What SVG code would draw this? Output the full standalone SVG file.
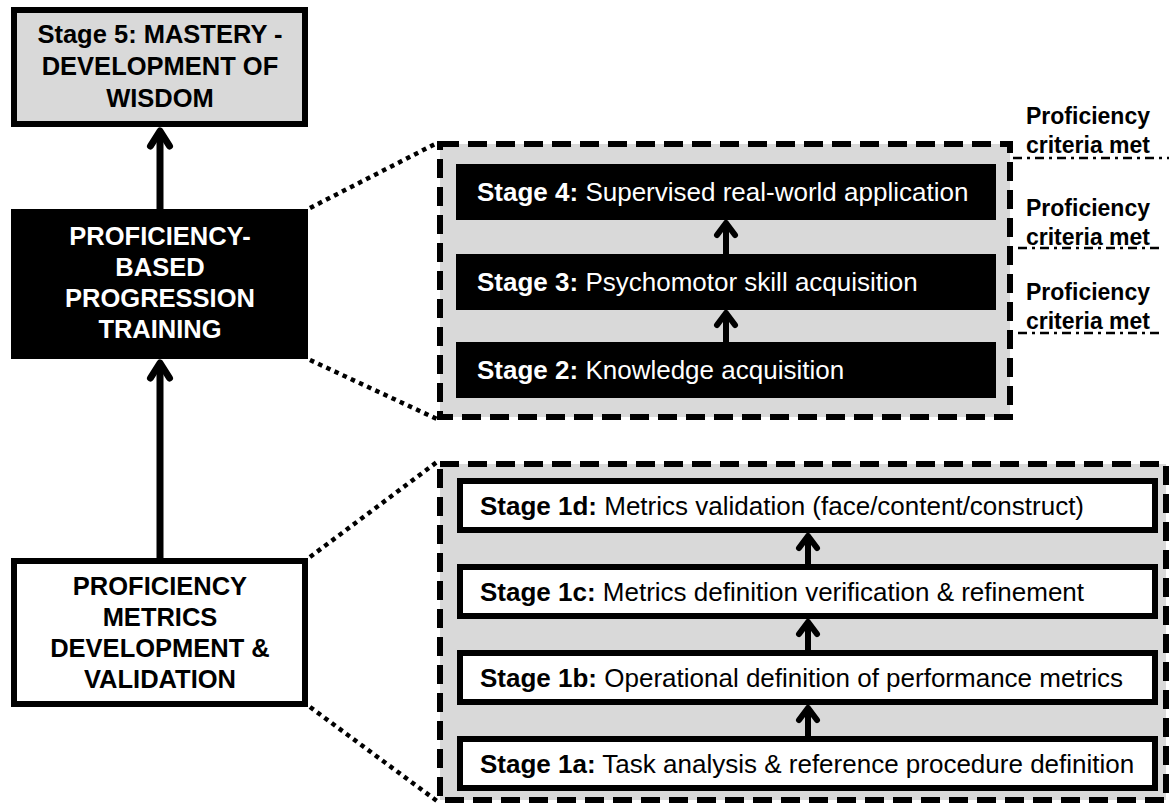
<svg xmlns="http://www.w3.org/2000/svg" width="1169" height="804" viewBox="0 0 1169 804">
<style>
text{font-family:"Liberation Sans",Arial,sans-serif}
.big{font-size:25.5px;font-weight:bold;text-anchor:middle}
.st{font-size:26px}
.b{font-weight:bold}
.lbl{font-size:23px;font-weight:bold;text-anchor:middle;fill:#000}
.cont{fill:#d9d9d9;stroke:#000;stroke-width:6;stroke-dasharray:19 9}
.wbox{fill:#fff;stroke:#000;stroke-width:6}
.kbox{fill:#000}
.arr{stroke:#000;stroke-width:7;fill:none}
.arr2{stroke:#000;stroke-width:6;fill:none}
.dot{stroke:#000;stroke-width:4.5;stroke-dasharray:4.5 4.5;fill:none}
.dd{stroke:#000;stroke-width:2.5;stroke-dasharray:9 5 3 5;fill:none}
</style>
<defs>
<marker id="ah" markerUnits="userSpaceOnUse" viewBox="-30 -20 40 40" refX="0" refY="0" markerWidth="40" markerHeight="40" orient="auto" overflow="visible">
<path d="M-15,-9.5 L0,0 L-15,9.5" fill="none" stroke="#000" stroke-width="7" stroke-linecap="round" stroke-linejoin="round"/>
</marker>
<marker id="ah2" markerUnits="userSpaceOnUse" viewBox="-30 -20 40 40" refX="0" refY="0" markerWidth="40" markerHeight="40" orient="auto" overflow="visible">
<path d="M-12,-9 L0,0 L-12,9" fill="none" stroke="#000" stroke-width="6" stroke-linecap="round" stroke-linejoin="round"/>
</marker>
</defs>

<g id="container-upper"><rect class="cont" x="440" y="144" width="570" height="273"/></g>
<g id="container-lower"><rect class="cont" x="440" y="464" width="726" height="336"/></g>

<g id="stage5">
<rect x="14" y="10" width="291" height="114" fill="#d9d9d9" stroke="#000" stroke-width="6"/>
<text class="big" x="160" y="43">Stage 5: MASTERY -</text>
<text class="big" x="160" y="75">DEVELOPMENT OF</text>
<text class="big" x="160" y="107">WISDOM</text>
</g>

<g id="pbpt">
<rect class="kbox" x="11" y="209" width="297" height="150"/>
<text class="big" x="160" y="245" fill="#fff">PROFICIENCY-</text>
<text class="big" x="160" y="276" fill="#fff">BASED</text>
<text class="big" x="160" y="307" fill="#fff">PROGRESSION</text>
<text class="big" x="160" y="338" fill="#fff">TRAINING</text>
</g>

<g id="pmdv">
<rect class="wbox" x="14" y="561" width="291" height="143"/>
<text class="big" x="160" y="595">PROFICIENCY</text>
<text class="big" x="160" y="626">METRICS</text>
<text class="big" x="160" y="657">DEVELOPMENT &amp;</text>
<text class="big" x="160" y="688">VALIDATION</text>
</g>

<g id="stage4">
<rect class="kbox" x="456" y="164" width="540" height="56"/>
<text class="st" x="477" y="201" fill="#fff"><tspan class="b">Stage 4:</tspan> Supervised real-world application</text>
</g>
<g id="stage3">
<rect class="kbox" x="456" y="254" width="540" height="56"/>
<text class="st" x="477" y="291" fill="#fff"><tspan class="b">Stage 3:</tspan> Psychomotor skill acquisition</text>
</g>
<g id="stage2">
<rect class="kbox" x="456" y="342" width="540" height="56"/>
<text class="st" x="477" y="379" fill="#fff"><tspan class="b">Stage 2:</tspan> Knowledge acquisition</text>
</g>

<g id="stage1d">
<rect class="wbox" x="460" y="481" width="695" height="49"/>
<text class="st" x="480" y="515"><tspan class="b">Stage 1d:</tspan> Metrics validation (face/content/construct)</text>
</g>
<g id="stage1c">
<rect class="wbox" x="460" y="567" width="695" height="49"/>
<text class="st" x="480" y="601"><tspan class="b">Stage 1c:</tspan> Metrics definition verification &amp; refinement</text>
</g>
<g id="stage1b">
<rect class="wbox" x="460" y="653" width="695" height="49"/>
<text class="st" x="480" y="687"><tspan class="b">Stage 1b:</tspan> Operational definition of performance metrics</text>
</g>
<g id="stage1a">
<rect class="wbox" x="460" y="739" width="695" height="49"/>
<text class="st" x="480" y="773"><tspan class="b">Stage 1a:</tspan> Task analysis &amp; reference procedure definition</text>
</g>

<g id="criteria-labels">
<text class="lbl" x="1088" y="124">Proficiency</text>
<text class="lbl" x="1088" y="153">criteria met</text>
<text class="lbl" x="1088" y="216">Proficiency</text>
<text class="lbl" x="1088" y="245">criteria met</text>
<text class="lbl" x="1088" y="300">Proficiency</text>
<text class="lbl" x="1088" y="329">criteria met</text>
</g>

<g id="connectors">
<line class="arr" x1="160" y1="209" x2="160" y2="131" marker-end="url(#ah)"/>
<line class="arr" x1="160" y1="558" x2="160" y2="363" marker-end="url(#ah)"/>
<line class="arr2" x1="726" y1="254" x2="726" y2="223" marker-end="url(#ah2)"/>
<line class="arr2" x1="726" y1="342" x2="726" y2="313" marker-end="url(#ah2)"/>
<line class="arr2" x1="808" y1="564" x2="808" y2="536" marker-end="url(#ah2)"/>
<line class="arr2" x1="808" y1="650" x2="808" y2="622" marker-end="url(#ah2)"/>
<line class="arr2" x1="808" y1="736" x2="808" y2="708" marker-end="url(#ah2)"/>
<line class="dot" x1="310" y1="208" x2="437" y2="143"/>
<line class="dot" x1="310" y1="360" x2="437" y2="419"/>
<line class="dot" x1="310" y1="557" x2="437" y2="462"/>
<line class="dot" x1="310" y1="707" x2="437" y2="801"/>
<line class="dd" x1="1013" y1="158" x2="1169" y2="158"/>
<line class="dd" x1="1018" y1="248" x2="1160" y2="248"/>
<line class="dd" x1="1018" y1="333" x2="1160" y2="333"/>
</g>
</svg>
